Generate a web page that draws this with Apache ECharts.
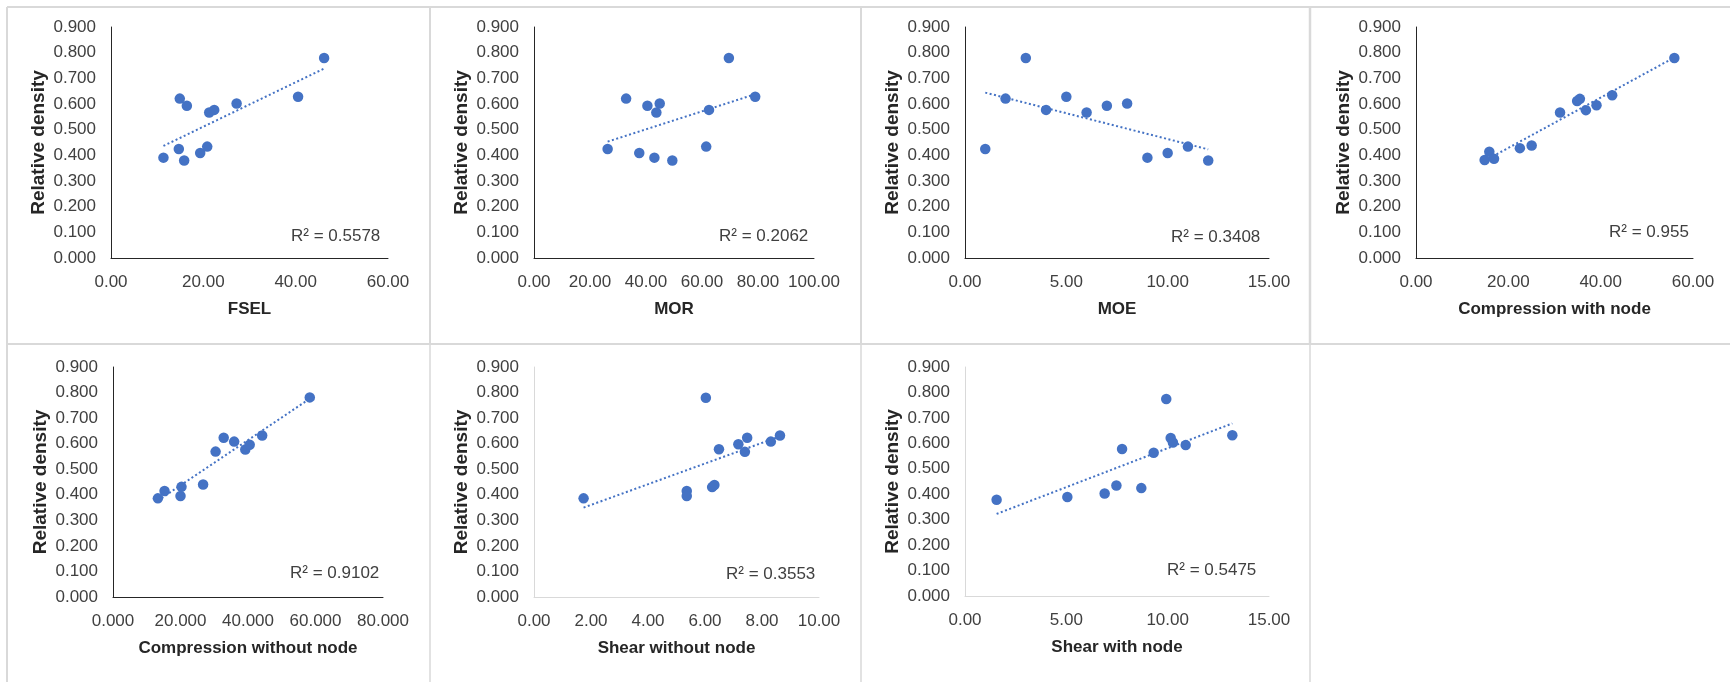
<!DOCTYPE html>
<html>
<head>
<meta charset="utf-8">
<script src="https://cdn.jsdelivr.net/npm/echarts@6/dist/echarts.min.js"></script>
<style>
html,body{margin:0;padding:0;background:#fff;}
#chart{width:1730px;height:682px;}
</style>
</head>
<body>
<div id="chart"></div>
<script>
// ---- data ----
const yAxisTitle = 'Relative density';
const panelTitles = ['FSEL', 'MOR', 'MOE', 'Compression with node', 'Compression without node', 'Shear without node', 'Shear with node'];
const r2Labels = ['R² = 0.5578', 'R² = 0.2062', 'R² = 0.3408', 'R² = 0.955', 'R² = 0.9102', 'R² = 0.3553', 'R² = 0.5475'];

const fselX = [11.36, 14.69, 14.9, 15.85, 16.43, 19.32, 20.84, 21.27, 22.36, 27.21, 40.52, 46.16];
const fselY = [0.391, 0.425, 0.621, 0.380, 0.593, 0.409, 0.434, 0.567, 0.577, 0.602, 0.628, 0.779];

const morX = [26.3, 32.9, 37.6, 40.5, 43.0, 43.7, 44.9, 49.4, 61.5, 62.5, 69.6, 79.0];
const morY = [0.425, 0.621, 0.409, 0.593, 0.391, 0.567, 0.602, 0.380, 0.434, 0.577, 0.779, 0.628];

const moeX = [1, 2, 3, 4, 5, 6, 7, 8, 9, 10, 11, 12];
const moeY = [0.425, 0.621, 0.779, 0.577, 0.628, 0.567, 0.593, 0.602, 0.391, 0.409, 0.434, 0.380];

const cwnX = [14.87, 15.88, 16.9, 22.5, 25.05, 31.2, 34.9, 35.5, 36.8, 39.1, 42.5, 55.96];
const cwnY = [0.382, 0.414, 0.387, 0.428, 0.438, 0.567, 0.612, 0.620, 0.576, 0.595, 0.634, 0.779];

const cwonX = [13.3, 15.27, 20.0, 20.3, 26.7, 30.4, 32.8, 35.9, 39.2, 40.5, 44.2, 58.3];
const cwonY = [0.386, 0.415, 0.395, 0.431, 0.440, 0.569, 0.623, 0.608, 0.577, 0.596, 0.632, 0.781];

const swonX = [1.74, 5.36, 5.36, 6.03, 6.25, 6.33, 6.49, 7.17, 7.40, 7.48, 8.31, 8.63];
const swonY = [0.386, 0.415, 0.395, 0.780, 0.430, 0.438, 0.578, 0.598, 0.568, 0.623, 0.608, 0.632];

const swnX = [1.56, 5.05, 6.89, 7.47, 7.75, 8.70, 9.31, 9.93, 10.15, 10.26, 10.89, 13.19];
const swnY = [0.378, 0.389, 0.403, 0.434, 0.578, 0.424, 0.563, 0.774, 0.621, 0.603, 0.593, 0.632];

const xMaxes = [60, 100, 15, 60, 80, 10, 15];
const xIntervals = [20, 20, 5, 20, 20, 2, 5];
const xDecimals = [2, 2, 2, 2, 3, 2, 2];
const yTicks = [0, 0.9, 0.1];

// ---- layout ----
const grids = [
  {left: 111, top: 27, width: 277, height: 231},
  {left: 534, top: 27, width: 280, height: 231},
  {left: 965, top: 27, width: 304, height: 231},
  {left: 1416, top: 27, width: 277, height: 231},
  {left: 113, top: 367, width: 270, height: 230},
  {left: 534, top: 367, width: 285, height: 230},
  {left: 965, top: 367, width: 304, height: 229}
];
const r2Pos = [[291, 236], [719, 236], [1171, 237], [1609, 232], [290, 573], [726, 574], [1167, 570]];
const axisColors = ['#262626', '#262626', '#262626', '#262626', '#262626', '#d9d9d9', '#d9d9d9'];

const xs = [fselX, morX, moeX, cwnX, cwonX, swonX, swnX];
const ys = [fselY, morY, moeY, cwnY, cwonY, swonY, swnY];

const BLUE = '#4472C4';
const FONT = '"Liberation Sans", Arial, sans-serif';

function linFit(x, y) {
  const n = x.length;
  let sx = 0, sy = 0, sxx = 0, sxy = 0;
  for (let i = 0; i < n; i++) { sx += x[i]; sy += y[i]; sxx += x[i]*x[i]; sxy += x[i]*y[i]; }
  const b = (n*sxy - sx*sy) / (n*sxx - sx*sx);
  const a = (sy - b*sx) / n;
  const x0 = Math.min.apply(null, x), x1 = Math.max.apply(null, x);
  return [[x0, a + b*x0], [x1, a + b*x1]];
}

const option = {
  backgroundColor: '#fff',
  animation: false,
  grid: grids.map(g => Object.assign({containLabel: false}, g)),
  xAxis: grids.map((g, i) => ({
    gridIndex: i, type: 'value', min: 0, max: xMaxes[i], interval: xIntervals[i],
    name: panelTitles[i], nameLocation: 'middle', nameGap: 43,
    nameTextStyle: {fontFamily: FONT, fontSize: 17, fontWeight: 'bold', color: '#262626'},
    axisLine: {show: true, onZero: false, lineStyle: {color: axisColors[i], width: 1}},
    axisTick: {show: false}, splitLine: {show: false},
    axisLabel: {margin: 16, fontFamily: FONT, fontSize: 17, color: '#404040',
      formatter: v => v.toFixed(xDecimals[i])}
  })),
  yAxis: grids.map((g, i) => ({
    gridIndex: i, type: 'value', min: yTicks[0], max: yTicks[1], interval: yTicks[2],
    name: yAxisTitle, nameLocation: 'middle', nameGap: 63, nameRotate: 90,
    nameTextStyle: {fontFamily: FONT, fontSize: 19, fontWeight: 'bold', color: '#262626'},
    axisLine: {show: true, onZero: false, lineStyle: {color: axisColors[i], width: 1}},
    axisTick: {show: false}, splitLine: {show: false},
    axisLabel: {margin: 15, fontFamily: FONT, fontSize: 17, color: '#404040',
      formatter: v => v.toFixed(3)}
  })),
  series: [],
  graphic: []
};

xs.forEach((x, i) => {
  const pts = x.map((v, k) => [v, ys[i][k]]);
  option.series.push({
    type: 'line', xAxisIndex: i, yAxisIndex: i, data: linFit(x, ys[i]),
    showSymbol: false, symbol: 'none', silent: true, z: 1,
    lineStyle: {color: BLUE, width: 2, type: [2, 2.5]}
  });
  option.series.push({
    type: 'scatter', xAxisIndex: i, yAxisIndex: i, data: pts,
    symbol: 'circle', symbolSize: 10.5, z: 2,
    itemStyle: {color: BLUE, opacity: 1}
  });
  option.graphic.push({
    type: 'text', x: r2Pos[i][0], y: r2Pos[i][1], silent: true,
    style: {text: r2Labels[i], font: '17px ' + FONT, fill: '#404040',
      textAlign: 'left', textVerticalAlign: 'middle'}
  });
});

// panel frame lines
const LINE = '#d9d9d9';
[
  [7, 7, 1730, 7, 2], [7, 7, 7, 682, 2], [7, 344, 1730, 344, 2],
  [430, 7, 430, 344, 2], [861, 7, 861, 344, 2], [1310, 7, 1310, 344, 2.5],
  [430, 344, 430, 682, 1.5], [861, 344, 861, 682, 1.5], [1310, 344, 1310, 682, 1.5]
].forEach(l => option.graphic.push({
  type: 'line', silent: true, z: -1,
  shape: {x1: l[0], y1: l[1], x2: l[2], y2: l[3]},
  style: {stroke: LINE, lineWidth: l[4]}
}));

const chart = echarts.init(document.getElementById('chart'), null, {renderer: 'canvas'});
chart.setOption(option);
</script>
</body>
</html>
